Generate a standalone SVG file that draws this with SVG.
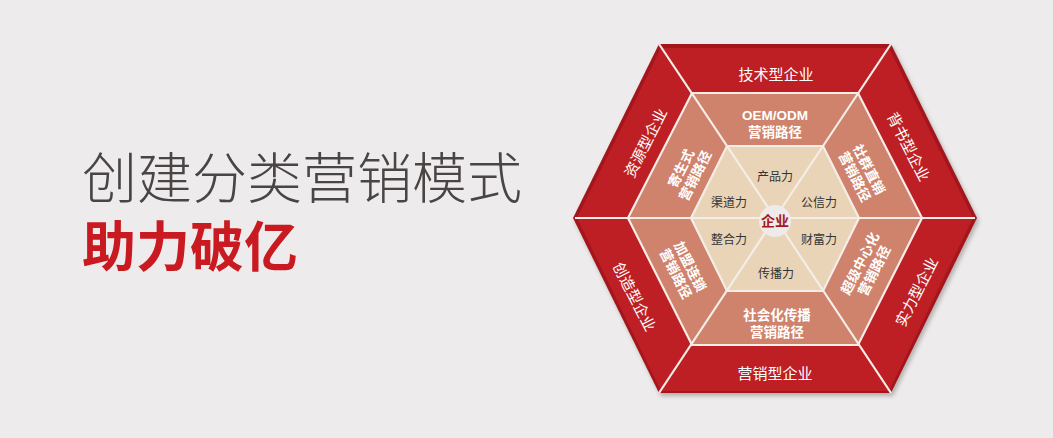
<svg xmlns="http://www.w3.org/2000/svg" width="1053" height="438" viewBox="0 0 1053 438">
<defs>
<style>
.cjk{font-family:"Liberation Sans","Noto Sans CJK SC",sans-serif}
.outer{fill:#fff;font-size:15px;text-anchor:middle}
.mid{fill:#fff;font-size:13.5px;font-weight:bold;text-anchor:middle}
.inner{fill:#333;font-size:12px;text-anchor:middle}
.line{stroke:#F4EDE8;stroke-width:2.2;fill:none}
.edge{stroke:#F4EDE8;stroke-width:2.2}
</style>
<filter id="sh" x="-10%" y="-10%" width="120%" height="120%">
<feDropShadow dx="2" dy="3" stdDeviation="2" flood-color="#000" flood-opacity="0.25"/>
</filter>
</defs>
<rect width="1053" height="438" fill="#EDEBEB"/>
<g id="title">
<text class="cjk" x="82" y="198" font-size="55" font-weight="300" fill="#4A4545">创建分类营销模式</text>
<text class="cjk" x="82" y="267" font-size="54" font-weight="bold" fill="#C81A20">助力破亿</text>
</g>
<g id="outer-ring">
<polygon points="659,44 891,44 977,218 891,393 659,393 573,218" fill="#A3171B" filter="url(#sh)"/>
<polygon points="661,48 889,48 973,218 889,391 661,391 577,218" fill="#BD1F24"/>
</g>
<g id="middle-ring">
<polygon points="692,93 858,93 922,218 858,345 692,345 628,218" fill="#CF826C" class="edge"/>
</g>
<g id="inner-ring">
<polygon points="727,146 823,146 859,218 823,291 727,291 691,218" fill="#EAD4B7" class="edge"/>
</g>
<g id="connectors">
<line class="line" x1="659" y1="44" x2="775" y2="218"/>
<line class="line" x1="891" y1="44" x2="775" y2="218"/>
<line class="line" x1="659" y1="393" x2="775" y2="218"/>
<line class="line" x1="891" y1="393" x2="775" y2="218"/>
<line class="line" x1="575" y1="218" x2="975" y2="218"/>
</g>
<g id="center">
<circle cx="775" cy="221" r="16" fill="#EEEBEA"/>
<text class="cjk" x="775" y="226" font-size="14" font-weight="bold" fill="#A3191E" text-anchor="middle">企业</text>
</g>
<g id="outer-labels" class="cjk">
<text class="outer" x="776" y="80">技术型企业</text>
<text class="outer" x="775" y="379">营销型企业</text>
<text class="outer" transform="translate(646,143) rotate(-63)" y="5">资源型企业</text>
<text class="outer" transform="translate(908,147) rotate(63)" y="5">背书型企业</text>
<text class="outer" transform="translate(634,297) rotate(63)" y="5">创造型企业</text>
<text class="outer" transform="translate(917,292) rotate(-63)" y="5">实力型企业</text>
</g>
<g id="middle-labels" class="cjk">
<text class="mid" x="775" y="120" font-size="14.5">OEM/ODM</text>
<text class="mid" x="775" y="137">营销路径</text>
<text class="mid" x="777" y="320">社会化传播</text>
<text class="mid" x="777" y="337">营销路径</text>
<g transform="translate(688,172) rotate(-63)">
<text class="mid" y="-3">寄生式</text>
<text class="mid" y="13">营销路径</text>
</g>
<g transform="translate(862,173) rotate(63)">
<text class="mid" y="-3">社群直销</text>
<text class="mid" y="13">营销路径</text>
</g>
<g transform="translate(683,270) rotate(63)">
<text class="mid" y="-3">加盟连锁</text>
<text class="mid" y="13">营销路径</text>
</g>
<g transform="translate(867,267) rotate(-63)">
<text class="mid" y="-3">超级中心化</text>
<text class="mid" y="13">营销路径</text>
</g>
</g>
<g id="inner-labels" class="cjk">
<text class="inner" x="775" y="181">产品力</text>
<text class="inner" x="729" y="207">渠道力</text>
<text class="inner" x="819" y="207">公信力</text>
<text class="inner" x="729" y="244">整合力</text>
<text class="inner" x="819" y="244">财富力</text>
<text class="inner" x="776" y="278">传播力</text>
</g>
</svg>
